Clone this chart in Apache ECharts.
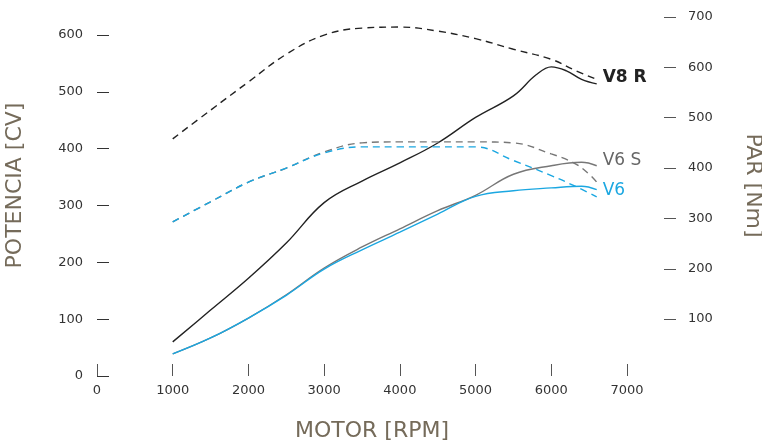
<!DOCTYPE html>
<html>
<head>
<meta charset="utf-8">
<script src="https://cdn.jsdelivr.net/npm/echarts@6/dist/echarts.min.js"></script>
<style>html,body{margin:0;padding:0;background:#fff}#c{width:762px;height:441px}</style>
</head>
<body>
<div id="c"></div>
<script>
// X ticks (rpm) and Y tick labels
const rpmTicks = [0, 1000, 2000, 3000, 4000, 5000, 6000, 7000];
const powerTicks = [0, 100, 200, 300, 400, 500, 600];
const torqueTicks = [100, 200, 300, 400, 500, 600, 700];

// V8 R
const v8PowerRpm = [1000, 1500, 2000, 2500, 3000, 3500, 4000, 4500, 5000, 5500, 5800, 6000, 6200, 6400, 6600];
const v8Power    = [60, 116, 172, 234, 305, 343, 375, 410, 455, 493, 530, 544, 537, 522, 514];
const v8TorqueRpm = [1000, 1500, 2000, 2500, 3000, 3500, 4000, 4500, 5000, 5500, 6000, 6300, 6600];
const v8Torque    = [458, 515, 571, 626, 664, 678, 680, 672, 657, 636, 616, 595, 576];

// V6 S
const v6sPowerRpm = [1000, 1500, 2000, 2500, 3000, 3500, 4000, 4500, 5000, 5500, 6000, 6400, 6600];
const v6sPower    = [39, 67, 102, 143, 190, 227, 259, 291, 318, 355, 370, 376, 370];
const v6sTorqueRpm = [1000, 1500, 2000, 2500, 3000, 3500, 4000, 4500, 5000, 5500, 6000, 6300, 6500, 6600];
const v6sTorque    = [293, 333, 372, 400, 432, 450, 452, 452, 452, 450, 428, 410, 388, 372];

// V6
const v6PowerRpm = [1000, 1500, 2000, 2500, 3000, 3500, 4000, 4500, 5000, 5500, 6000, 6400, 6600];
const v6Power    = [39, 67, 102, 142, 188, 222, 253, 285, 316, 326, 331, 334, 328];
const v6TorqueRpm = [1000, 1500, 2000, 2500, 3000, 3500, 4000, 4500, 5000, 5500, 6000, 6300, 6600];
const v6Torque    = [293, 333, 372, 400, 430, 442, 442, 442, 442, 415, 385, 365, 343];

const zip = (xs, ys) => xs.map((x, i) => [x, ys[i]]);

const FONT = 'DejaVu Sans';
const NAME_COLOR = '#756b5a';
const BLACK = '#222222', GRAY = '#777777', BLUE = '#1ba7e1';
const plain = v => String(v);

function line(name, data, color, dashed, yIdx, endText, endColor, endOffset, endWeight) {
  const s = {
    name, type: 'line', yAxisIndex: yIdx, data, smooth: 0.4, symbol: 'none',
    lineStyle: { color, width: 1.4, type: dashed ? [7, 5] : 'solid' },
    emphasis: { disabled: true }, silent: true
  };
  if (endText) {
    s.endLabel = {
      show: true, formatter: endText, color: endColor, fontFamily: FONT,
      fontSize: 17, fontWeight: endWeight, distance: 6, offset: endOffset
    };
  }
  return s;
}

const chart = echarts.init(document.getElementById('c'), null, { renderer: 'canvas' });
chart.setOption({
  animation: false,
  grid: { left: 97, right: 135, top: 17, bottom: 65, outerBoundsMode: 'none', containLabel: false },
  xAxis: {
    type: 'value', min: 0, max: 7000, interval: 1000,
    axisLine: { show: false }, splitLine: { show: false },
    axisTick: { show: true, inside: true, length: 12, lineStyle: { color: '#555', width: 1 }, customValues: rpmTicks },
    axisLabel: { color: '#333', fontFamily: FONT, fontSize: 13, margin: 8, customValues: rpmTicks, formatter: plain },
    name: 'MOTOR [RPM]', nameLocation: 'middle', nameGap: 44,
    nameTextStyle: { color: NAME_COLOR, fontFamily: FONT, fontSize: 22, padding: [0, 0, 0, 20] }
  },
  yAxis: [
    {
      type: 'value', min: 0, max: 631.7, position: 'left',
      axisLine: { show: false }, splitLine: { show: false },
      axisTick: { show: true, inside: true, length: 12, lineStyle: { color: '#333', width: 1 }, customValues: powerTicks },
      axisLabel: { color: '#333', fontFamily: FONT, fontSize: 13, margin: 14, customValues: powerTicks, formatter: plain },
      name: 'POTENCIA [CV]', nameLocation: 'middle', nameRotate: 90, nameGap: 71,
      nameTextStyle: { color: NAME_COLOR, fontFamily: FONT, fontSize: 22, padding: [0, 0, 0, 22] }
    },
    {
      type: 'value', min: -13, max: 700, position: 'right', offset: 49,
      axisLine: { show: false }, splitLine: { show: false },
      axisTick: { show: true, inside: true, length: 12, lineStyle: { color: '#555', width: 1 }, customValues: torqueTicks },
      axisLabel: { color: '#333', fontFamily: FONT, fontSize: 13, margin: 12, customValues: torqueTicks, formatter: plain },
      name: 'PAR [Nm]', nameLocation: 'middle', nameRotate: -90, nameGap: 66,
      nameTextStyle: { color: NAME_COLOR, fontFamily: FONT, fontSize: 22, padding: [0, 22, 0, 0] }
    }
  ],
  series: [
    line('V8 R potencia', zip(v8PowerRpm, v8Power), BLACK, false, 0),
    line('V8 R par', zip(v8TorqueRpm, v8Torque), BLACK, true, 1, 'V8 R', BLACK, [0, -2], 'bold'),
    line('V6 S par', zip(v6sTorqueRpm, v6sTorque), GRAY, true, 1),
    line('V6 S potencia', zip(v6sPowerRpm, v6sPower), GRAY, false, 0, 'V6 S', '#666', [0, -5], 'normal'),
    line('V6 par', zip(v6TorqueRpm, v6Torque), BLUE, true, 1),
    line('V6 potencia', zip(v6PowerRpm, v6Power), BLUE, false, 0, 'V6', BLUE, [0, 1], 'normal')
  ]
});
</script>
</body>
</html>
